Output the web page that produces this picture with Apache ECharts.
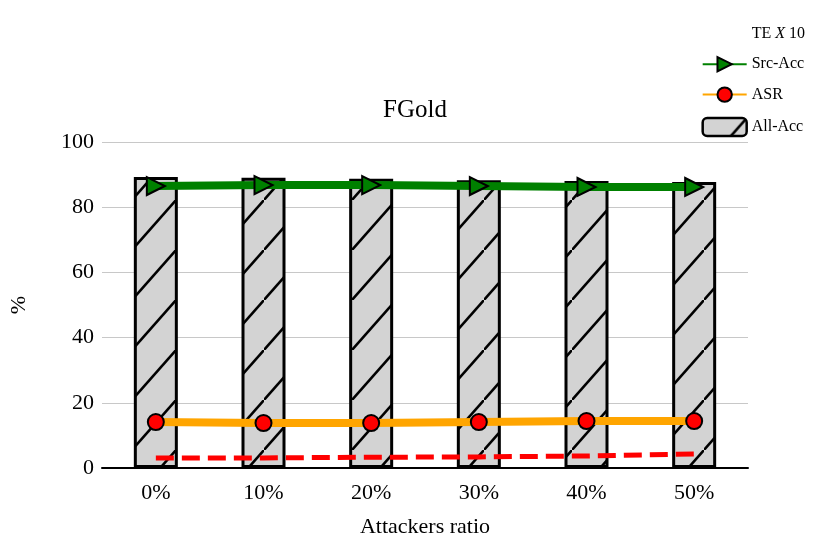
<!DOCTYPE html>
<html><head><meta charset="utf-8">
<script src="https://cdn.jsdelivr.net/npm/echarts@6/dist/echarts.min.js"></script>
<style>html,body{margin:0;background:#fff}#main{width:830px;height:555px}</style>
</head><body><div id="main"></div>
<script>
const categories = ['0%', '10%', '20%', '30%', '40%', '50%'];
const allAcc = [89.3, 89.0, 88.7, 88.3, 88.0, 87.7];
const srcAcc = [86.5, 86.8, 86.8, 86.5, 86.2, 86.2];
const asr = [14.1, 13.8, 13.8, 14.1, 14.4, 14.4];
const te10 = [3.1, 3.1, 3.3, 3.4, 3.7, 4.3];

// hatch pattern for bars
const pc = document.createElement('canvas');
pc.width = 44; pc.height = 50;
const ctx = pc.getContext('2d');
ctx.fillStyle = '#d3d3d3';
ctx.fillRect(0, 0, 44, 50);
ctx.strokeStyle = '#000';
ctx.lineWidth = 2.5;
ctx.beginPath();
ctx.moveTo(-4.4, 55); ctx.lineTo(48.4, -5);
ctx.stroke();

const font = 'Liberation Serif';
const chart = echarts.init(document.getElementById('main'));
chart.setOption({
  animation: false,
  textStyle: { fontFamily: font, color: '#000' },
  title: { text: 'FGold', left: 'center', top: 93, textStyle: { fontFamily: font, fontSize: 25, fontWeight: 'normal', color: '#000' } },
  legend: {
    orient: 'vertical', right: 20, top: 20, itemGap: 14, itemWidth: 44, itemHeight: 18,
    textStyle: { fontFamily: font, fontSize: 16, color: '#000', rich: { i: { fontStyle: 'italic', fontFamily: font, fontSize: 16 } } },
    formatter: n => n === 'TE X 10' ? 'TE {i|X} 10' : n,
    data: [
      { name: 'TE X 10', icon: 'none' },
      { name: 'Src-Acc' },
      { name: 'ASR' },
      { name: 'All-Acc', itemStyle: { borderWidth: 2.5 } }
    ]
  },
  grid: { left: 100, right: 82, top: 142, bottom: 87 },
  xAxis: {
    type: 'category', data: categories,
    name: 'Attackers ratio', nameLocation: 'middle', nameGap: 48,
    nameTextStyle: { fontFamily: font, fontSize: 22, color: '#000' },
    axisLine: { lineStyle: { color: '#000', width: 2 } },
    axisTick: { show: false },
    axisLabel: { fontFamily: font, fontSize: 22, color: '#000', margin: 14 }
  },
  yAxis: {
    type: 'value', min: 0, max: 100, interval: 20,
    name: '%', nameLocation: 'middle', nameGap: 72,
    nameTextStyle: { fontFamily: font, fontSize: 22, color: '#000' },
    axisLine: { show: false }, axisTick: { show: false },
    axisLabel: { fontFamily: font, fontSize: 22, color: '#000', margin: 8 },
    splitLine: { lineStyle: { color: '#c8c8c8', width: 1 } }
  },
  series: [
    { name: 'All-Acc', type: 'bar', data: allAcc, barWidth: 44, z: 1,
      itemStyle: { color: { image: pc, repeat: 'repeat' }, borderColor: '#000', borderWidth: 3 } },
    { name: 'ASR', type: 'line', data: asr, z: 3, symbol: 'circle', symbolSize: 16,
      lineStyle: { color: 'orange', width: 8 },
      itemStyle: { color: 'red', borderColor: '#000', borderWidth: 2 } },
    { name: 'Src-Acc', type: 'line', data: srcAcc, z: 4, symbol: 'triangle', symbolRotate: -90, symbolSize: 18,
      lineStyle: { color: 'green', width: 8 },
      itemStyle: { color: 'green', borderColor: '#000', borderWidth: 2 } },
    { name: 'TE X 10', type: 'line', data: te10, z: 2, symbol: 'none',
      lineStyle: { color: 'red', width: 5, type: [18, 8] },
      itemStyle: { color: 'red' } }
  ]
});
</script></body></html>
